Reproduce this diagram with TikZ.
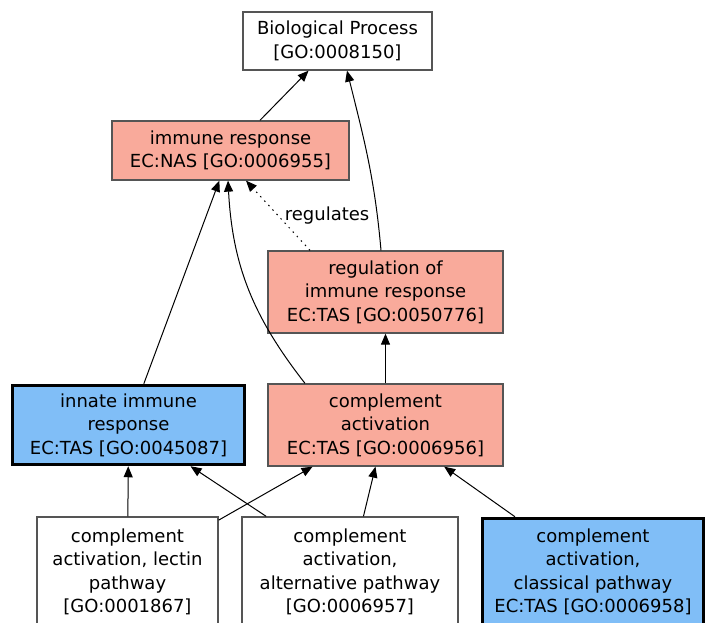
\documentclass[tikz,border=0pt]{standalone}
\usepackage{fontspec}
\setmainfont{DejaVu Sans}
\usetikzlibrary{shapes,arrows.meta}
\definecolor{goterm}{RGB}{249,170,155}
\definecolor{gohit}{RGB}{128,190,247}
\definecolor{goline}{RGB}{85,85,85}

\begin{document}
\begin{tikzpicture}[x=1pt,y=1pt,
	term/.style={draw=goline, line width=1.3pt, align=center, inner sep=0pt, font=\fontsize{18}{23.5}\selectfont},
	hit/.style={term, draw=black, line width=3.5pt, fill=gohit},
	isa/.style={-{Triangle[length=11pt,width=9pt]}, line width=1pt},
	reg/.style={isa, dash pattern=on 1.5pt off 4.5pt}]
	\useasboundingbox (0,0) rectangle (707,622);
	% GO terms
	\node[term, minimum width=189, minimum height=58] (bp) at (337.5,581) {Biological Process\\{[GO:0008150]}};
	\node[term, fill=goterm, minimum width=237, minimum height=59] (imm) at (230.5,471.5) {immune response\\EC:NAS [GO:0006955]};
	\node[term, fill=goterm, minimum width=235, minimum height=82] (regu) at (385.5,330) {regulation of\\immune response\\EC:TAS [GO:0050776]};
	\node[hit, minimum width=232, minimum height=79] (inn) at (128.5,197) {innate immune\\response\\EC:TAS [GO:0045087]};
	\node[term, fill=goterm, minimum width=235, minimum height=82] (comp) at (385.5,197) {complement\\activation\\EC:TAS [GO:0006956]};
	\node[term, fill=white, minimum width=181, minimum height=110] (lec) at (127.5,50) {complement\\activation, lectin\\pathway\\{[GO:0001867]}};
	\node[term, fill=white, minimum width=216, minimum height=110] (alt) at (350,50) {complement\\activation,\\alternative pathway\\{[GO:0006957]}};
	\node[hit, minimum width=221, minimum height=107] (cla) at (593,50) {complement\\activation,\\classical pathway\\EC:TAS [GO:0006958]};
	% is_a edges
	\draw[isa] (imm) -- (bp);
	\draw[isa] ([xshift=-4.5]regu.north) to[out=95,in=-76] ([xshift=9.5]bp.south);
	\draw[reg] ([xshift=-75.5]regu.north) -- node[midway, right=3pt, font=\fontsize{18}{20}\selectfont]{regulates} ([xshift=15.5]imm.south);
	\draw[isa] (inn) -- (imm);
	\draw[isa] ([xshift=-80.5]comp.north) to[out=128,in=-87] ([xshift=-2.5]imm.south);
	\draw[isa] (comp) -- (regu);
	\draw[isa] (lec) -- (inn);
	\draw[isa] (alt) -- (inn);
	\draw[isa] (lec) -- (comp);
	\draw[isa] (alt) -- (comp);
	\draw[isa] (cla) -- (comp);
\end{tikzpicture}
\end{document}
